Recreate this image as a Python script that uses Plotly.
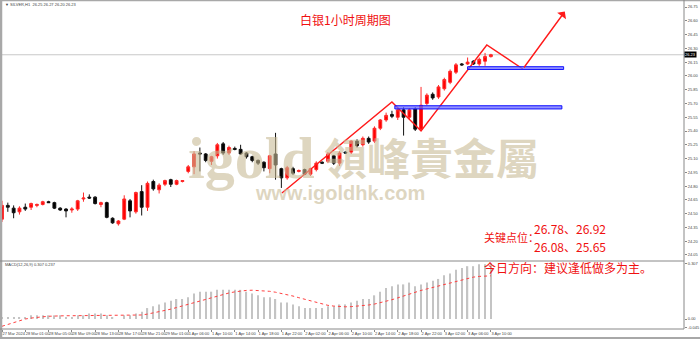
import plotly.graph_objects as go

W, H = 700, 339
def px(x): return x / W
def py(y): return 1 - y / H

# ---------------- data ----------------
opens = [24.44,24.59,24.56,24.52,24.57,24.57,24.59,24.60,24.63,24.62,
         24.56,24.55,24.54,24.55,24.66,24.68,24.68,24.60,24.62,24.45,
         24.39,24.44,24.64,24.52,24.74,24.57,24.85,24.76,24.82,24.87,
         24.82,24.85,24.96,25.01,25.16,25.15,25.07,25.13,25.26,25.16,
         25.21,25.20,25.16,25.12,25.08,25.06,24.99,25.15,24.99,24.89,
         24.99,24.96,24.98,24.93,24.98,25.06,25.07,25.13,25.05,25.17,
         25.17,25.29,25.25,25.32,25.29,25.43,25.52,25.58,25.55,25.63,
         25.55,25.64,25.42,25.70,25.80,25.77,25.86,25.93,26.04,26.13,
         26.13,26.16,26.13,26.16,26.21]
highs = [24.64,24.62,24.59,24.58,24.61,24.62,24.61,24.64,24.64,24.63,
         24.57,24.56,24.57,24.65,24.73,24.71,24.69,24.63,24.63,24.46,
         24.43,24.70,24.66,24.74,24.81,24.85,24.87,24.83,24.87,24.88,
         24.87,24.86,25.03,25.18,25.22,25.16,25.13,25.27,25.28,25.24,
         25.23,25.25,25.17,25.13,25.09,25.07,25.14,25.38,25.00,25.02,
         25.01,24.98,24.99,25.00,25.07,25.07,25.17,25.14,25.18,25.18,
         25.30,25.31,25.34,25.34,25.45,25.53,25.60,25.62,25.66,25.66,
         25.65,25.66,25.88,25.81,25.82,25.90,25.98,26.07,26.14,26.14,
         26.20,26.17,26.20,26.25,26.24]
lows = [24.41,24.52,24.45,24.49,24.53,24.54,24.57,24.59,24.62,24.55,
        24.53,24.46,24.51,24.53,24.63,24.66,24.60,24.57,24.45,24.39,
        24.37,24.43,24.46,24.50,24.48,24.53,24.75,24.72,24.80,24.79,
        24.81,24.84,24.94,24.93,24.96,25.06,25.03,25.10,25.14,25.14,
        25.19,25.14,25.10,25.06,25.03,24.96,24.94,24.87,24.78,24.87,
        24.92,24.95,24.92,24.91,24.96,25.04,25.05,25.03,25.02,25.15,
        25.15,25.22,25.23,25.26,25.27,25.41,25.50,25.54,25.52,25.35,
        25.52,25.40,25.40,25.68,25.74,25.75,25.84,25.91,26.02,26.11,
        26.12,26.12,26.11,26.11,26.20]
closes = [24.59,24.57,24.51,24.56,24.55,24.61,24.60,24.63,24.62,24.56,
          24.54,24.53,24.55,24.64,24.67,24.67,24.61,24.62,24.46,24.40,
          24.42,24.66,24.53,24.73,24.57,24.83,24.77,24.81,24.86,24.82,
          24.86,24.86,25.01,25.15,25.15,25.08,25.12,25.25,25.16,25.22,
          25.20,25.15,25.12,25.08,25.05,25.00,25.13,25.03,24.89,25.00,
          24.94,24.97,24.93,24.99,25.05,25.05,25.15,25.05,25.16,25.16,
          25.29,25.24,25.32,25.28,25.43,25.52,25.57,25.56,25.63,25.55,
          25.63,25.42,25.68,25.79,25.76,25.88,25.96,26.05,26.12,26.12,
          26.15,26.13,26.18,26.21,26.23]
bars = list(range(len(opens)))

macd_main = [0.01,0.01,0.01,0.01,0.01,0.02,0.02,0.02,0.02,0.02,
             0.02,0.01,0.01,0.02,0.02,0.03,0.03,0.03,0.02,0.01,
             0.00,0.02,0.02,0.03,0.04,0.06,0.07,0.08,0.09,0.10,
             0.11,0.11,0.12,0.14,0.15,0.15,0.15,0.16,0.16,0.16,
             0.16,0.16,0.15,0.14,0.13,0.12,0.12,0.11,0.09,0.09,
             0.08,0.07,0.06,0.06,0.06,0.06,0.07,0.07,0.08,0.08,
             0.09,0.10,0.11,0.11,0.13,0.15,0.17,0.18,0.19,0.19,
             0.20,0.18,0.19,0.20,0.21,0.22,0.24,0.25,0.27,0.28,
             0.29,0.29,0.30,0.30,0.307]
macd_signal = [-0.04,-0.03,-0.02,-0.01,0.00,0.005,0.01,0.012,0.015,0.017,
               0.018,0.018,0.018,0.018,0.018,0.019,0.02,0.021,0.021,0.02,
               0.02,0.02,0.02,0.02,0.022,0.027,0.033,0.039,0.046,0.054,
               0.063,0.072,0.081,0.091,0.101,0.11,0.12,0.128,0.136,0.143,
               0.149,0.154,0.157,0.158,0.157,0.155,0.152,0.147,0.141,0.134,
               0.126,0.117,0.108,0.099,0.09,0.081,0.075,0.071,0.068,0.067,
               0.068,0.07,0.073,0.077,0.082,0.089,0.097,0.106,0.116,0.127,
               0.138,0.148,0.157,0.165,0.173,0.181,0.19,0.199,0.208,0.217,
               0.224,0.23,0.234,0.236,0.237]

date_tick_bars = list(range(0, 85, 4))
date_labels = ["27 Mar 2024","28 Mar 01:00","28 Mar 05:00","28 Mar 09:00",
               "28 Mar 13:00","28 Mar 17:00","28 Mar 21:00","29 Mar 01:00",
               "1 Apr 06:00","1 Apr 10:00","1 Apr 14:00","1 Apr 18:00",
               "1 Apr 22:00","2 Apr 02:00","2 Apr 06:00","2 Apr 10:00",
               "2 Apr 14:00","2 Apr 18:00","2 Apr 22:00","3 Apr 02:00",
               "3 Apr 06:00","3 Apr 10:00"]
price_ticks = [round(24.05 + 0.15 * k, 2) for k in range(19)]
price_labels = ["%.2f" % v for v in price_ticks]
macd_ticks = [0.307, 0.0, -0.045]
macd_labels = ["0.307", "0.00", "-0.045"]

current_price = 26.23
zigzag_x = [48.1, 67.0, 72.0, 83.3, 89.5]
zigzag_y = [24.725, 25.716, 25.40, 26.336, 26.075]
arrow_end = (96.7, 26.70)
zones = [  # (x0, x1, y_low, y_high)
    (80.0, 96.5, 26.07, 26.10),
    (67.5, 96.2, 25.64, 25.675),
]

title_text = "白银1小时周期图"
key_label = "关键点位："
resist_text = "26.78、26.92"
support_text = "26.08、25.65"
direction_text = "今日方向：建议逢低做多为主。"
header_text = "▼ SILVER,H1  26.25 26.27 26.20 26.23"
macd_header = "MACD(12,26,9) 0.307 0.237"

RED = "#f01010"
CJK = "Noto Sans CJK SC"
TICKFONT = dict(size=4, color="#444", family="Arial")

# ---------------- figure ----------------
fig = go.Figure()

fig.add_trace(go.Candlestick(
    x=bars, open=opens, high=highs, low=lows, close=closes,
    increasing=dict(fillcolor="#ff0000", line=dict(color="#ff2a2a", width=1)),
    decreasing=dict(fillcolor="#000000", line=dict(color="#111111", width=1)),
    whiskerwidth=0, xaxis="x", yaxis="y", showlegend=False, hoverinfo="skip"))

fig.add_trace(go.Scatter(
    x=zigzag_x, y=zigzag_y, mode="lines",
    line=dict(color="#ff1a1a", width=1.4), xaxis="x", yaxis="y",
    showlegend=False, hoverinfo="skip"))

fig.add_trace(go.Bar(
    x=bars, y=macd_main, width=0.22, marker=dict(color="#c4c4c4", line=dict(width=0)),
    xaxis="x2", yaxis="y2", showlegend=False, hoverinfo="skip"))
fig.add_trace(go.Scatter(
    x=bars, y=macd_signal, mode="lines",
    line=dict(color="#ff4040", width=1, dash="dot"),
    xaxis="x2", yaxis="y2", showlegend=False, hoverinfo="skip"))

x0 = -0.344
x1 = x0 + 684 / 5.82
main_top, main_bot = 1, 260
macd_top, macd_bot = 261, 329
y_lo = 26.75 - (main_bot - 7) / 91.85
y_hi = 26.75 - (main_top - 7) / 91.85
m_lo = (319 - macd_bot) / 182.1
m_hi = (319 - macd_top) / 182.1

fig.update_layout(
    width=W, height=H, margin=dict(l=0, r=0, t=0, b=0),
    paper_bgcolor="white", plot_bgcolor="white", boxgap=0.3,
    xaxis=dict(domain=[0, px(684)], range=[x0, x1], showticklabels=False,
               showgrid=False, zeroline=False, rangeslider=dict(visible=False),
               anchor="y", matches="x2", fixedrange=True),
    yaxis=dict(domain=[py(main_bot), py(main_top)], range=[y_lo, y_hi],
               side="right", tickvals=price_ticks, ticktext=price_labels,
               ticks="outside", ticklen=2, tickcolor="#888", showgrid=False,
               zeroline=False, tickfont=TICKFONT,
               automargin=False, showline=False, anchor="x"),
    xaxis2=dict(domain=[0, px(684)], range=[x0, x1], tickvals=date_tick_bars,
                ticktext=date_labels, ticks="outside", ticklen=2, tickcolor="#888",
                ticklabelposition="outside right", tickangle=0,
                showgrid=False, zeroline=False, tickfont=TICKFONT,
                automargin=False, anchor="y2", showline=False),
    yaxis2=dict(domain=[py(macd_bot), py(macd_top)], range=[m_lo, m_hi],
                side="right", tickvals=macd_ticks, ticktext=macd_labels,
                ticks="outside", ticklen=2, tickcolor="#888", showgrid=False,
                zeroline=False, tickfont=TICKFONT,
                automargin=False, anchor="x2"),
)

shapes = []
gray = "#a8a8a8"
shapes.append(dict(type="line", xref="paper", yref="paper", x0=0, x1=1, y0=py(0.5), y1=py(0.5), line=dict(color=gray, width=1.5)))
shapes.append(dict(type="line", xref="paper", yref="paper", x0=px(1), x1=px(1), y0=0, y1=1, line=dict(color=gray, width=2.5)))
shapes.append(dict(type="line", xref="paper", yref="paper", x0=px(684), x1=px(684), y0=py(macd_bot), y1=1, line=dict(color="#888", width=1)))
shapes.append(dict(type="line", xref="paper", yref="paper", x0=0, x1=px(684), y0=py(macd_top), y1=py(macd_top), line=dict(color="#888", width=1)))
shapes.append(dict(type="line", xref="paper", yref="paper", x0=0, x1=px(684), y0=py(macd_bot), y1=py(macd_bot), line=dict(color="#888", width=1)))
shapes.append(dict(type="line", xref="paper", yref="paper", x0=0, x1=1, y0=py(338), y1=py(338), line=dict(color=gray, width=2)))
shapes.append(dict(type="line", xref="paper", yref="y", x0=0, x1=px(684), y0=current_price, y1=current_price,
                   line=dict(color="#c8c8c8", width=1), layer="below"))
for zx0, zx1, zlo, zhi in zones:
    shapes.append(dict(type="rect", xref="x", yref="y", x0=zx0, x1=zx1, y0=zlo, y1=zhi,
                       fillcolor="rgba(110,110,255,0.75)", line=dict(color="#1010ff", width=1)))
fig.update_layout(shapes=shapes)

ann = []
wm = "rgba(200,186,150,0.6)"
ann.append(dict(text="<b>igold</b>", xref="paper", yref="paper", x=px(186), y=py(158), xanchor="left", yanchor="middle",
                showarrow=False, font=dict(family="Liberation Serif", size=60, color=wm)))
ann.append(dict(text="<b>領峰貴金屬</b>", xref="paper", yref="paper", x=px(322), y=py(156), xanchor="left", yanchor="middle",
                showarrow=False, font=dict(family="Noto Sans CJK TC", size=43, color=wm)))
ann.append(dict(text="<b>www.igoldhk.com</b>", xref="paper", yref="paper", x=px(253), y=py(193), xanchor="left", yanchor="middle",
                showarrow=False, font=dict(family="Liberation Sans", size=20, color=wm)))
ann.append(dict(x=arrow_end[0], y=arrow_end[1], ax=zigzag_x[-1], ay=zigzag_y[-1], xref="x", yref="y", axref="x", ayref="y",
                showarrow=True, arrowhead=1, arrowsize=1.3, arrowwidth=1.4, arrowcolor="#ff1a1a", text=""))
ann.append(dict(text=title_text, xref="paper", yref="paper", x=px(345), y=py(20), xanchor="center", yanchor="middle",
                showarrow=False, font=dict(family=CJK, size=12, color=RED)))
ann.append(dict(text=key_label, xref="paper", yref="paper", x=px(482), y=py(237), xanchor="left", yanchor="middle",
                showarrow=False, font=dict(family=CJK, size=11, color=RED)))
ann.append(dict(text=resist_text, xref="paper", yref="paper", x=px(532), y=py(228), xanchor="left", yanchor="middle",
                showarrow=False, font=dict(family=CJK, size=12, color=RED)))
ann.append(dict(text=support_text, xref="paper", yref="paper", x=px(532), y=py(246), xanchor="left", yanchor="middle",
                showarrow=False, font=dict(family=CJK, size=12, color=RED)))
ann.append(dict(text=direction_text, xref="paper", yref="paper", x=px(482), y=py(267), xanchor="left", yanchor="middle",
                showarrow=False, font=dict(family=CJK, size=12, color=RED)))
ann.append(dict(text=header_text, xref="paper", yref="paper", x=px(3), y=py(5), xanchor="left", yanchor="middle",
                showarrow=False, font=dict(family="Arial", size=4, color="#444")))
ann.append(dict(text=macd_header, xref="paper", yref="paper", x=px(3), y=py(264), xanchor="left", yanchor="middle",
                showarrow=False, font=dict(family="Arial", size=4, color="#444")))
ann.append(dict(text="%.2f" % current_price, xref="paper", yref="y", x=px(684), y=current_price, xanchor="left", yanchor="middle",
                showarrow=False, bgcolor="#000", borderpad=0, font=dict(family="Arial", size=4, color="#fff")))
fig.update_layout(annotations=ann)

fig.write_html("out.html")
